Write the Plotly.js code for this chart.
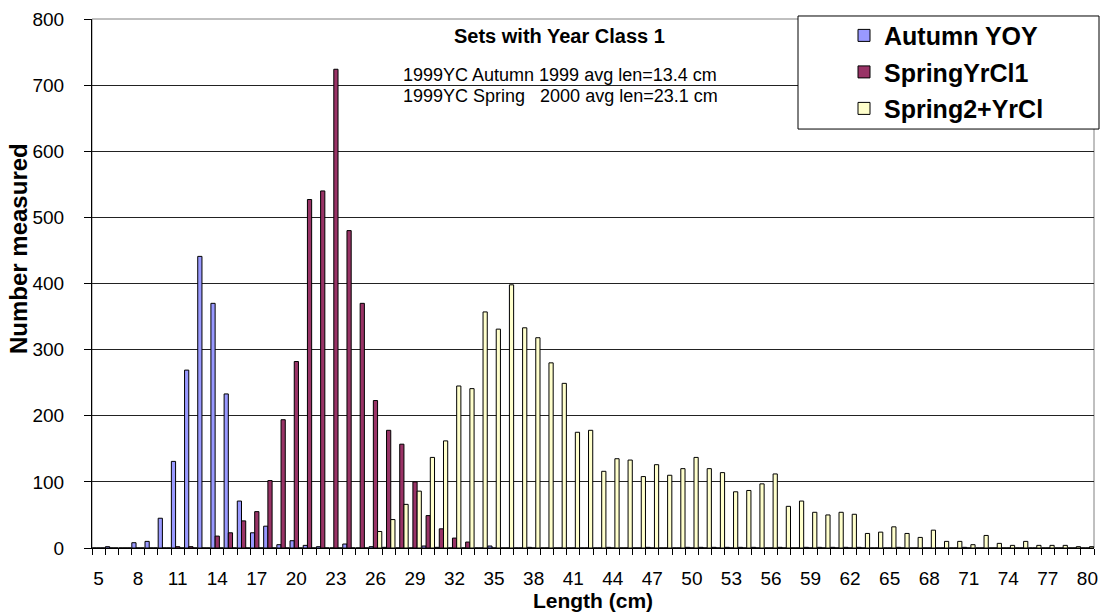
<!DOCTYPE html>
<html>
<head>
<meta charset="utf-8">
<script src="https://cdn.plot.ly/plotly-3.0.1.min.js"></script>
<style>html,body{margin:0;padding:0;background:#fff;}#chart{width:1101px;height:613px;}</style>
</head>
<body>
<div id="chart"></div>
<script>
// Length classes (cm)
const lengths = [5,6,7,8,9,10,11,12,13,14,15,16,17,18,19,20,21,22,23,24,25,26,27,28,29,30,
  31,32,33,34,35,36,37,38,39,40,41,42,43,44,45,46,47,48,49,50,51,52,53,54,55,56,57,58,59,60,
  61,62,63,64,65,66,67,68,69,70,71,72,73,74,75,76,77,78,79,80];

// Autumn YOY
const autumnYOY = [0,2,0,8,10,45,131,269,441,370,233,71,23,33,5,11,4,2,0,6,0,2,1,0,0,3,
  1,0,0,0,3,0,0,1,0,0,0,0,0,1,0,0,1,0,0,1,1,1,1,1,1,0,1,0,1,1,
  1,1,1,0,0,1,0,0,0,0,1,0,0,0,0,0,0,0,0,0];

// SpringYrCl1
const springYrCl1 = [0,0,0,0,0,0,2,2,0,18,23,41,55,102,194,282,527,540,724,480,370,223,178,157,100,49,
  29,15,9,0,0,0,0,0,0,0,0,0,0,0,0,0,0,0,0,0,0,0,0,0,0,0,0,0,0,0,
  0,0,0,0,0,0,0,0,0,0,0,0,0,0,0,0,0,0,0,0];

// Spring2+YrCl
const spring2YrCl = [0,0,0,0,0,0,0,0,0,0,0,0,0,0,0,0,0,0,0,0,0,25,43,66,86,137,
  162,245,241,357,331,398,333,318,280,249,175,178,116,135,133,108,126,110,120,137,120,114,85,87,97,112,63,71,54,50,
  54,51,22,24,32,22,16,27,10,10,5,19,7,4,10,4,4,4,2,2];

// Labelled x ticks
const xTickLabels = [5,8,11,14,17,20,23,26,29,32,35,38,41,44,47,50,53,56,59,62,65,68,71,74,77,80];

const seriesNames = ['Autumn YOY', 'SpringYrCl1', 'Spring2+YrCl'];
const seriesColors = ['#9999FF', '#993366', '#FFFFCC'];
const seriesValues = [autumnYOY, springYrCl1, spring2YrCl];

const FONT = 'Liberation Sans, Arial, sans-serif';

const traces = seriesValues.map((vals, i) => ({
  type: 'bar',
  name: seriesNames[i],
  x: lengths,
  y: vals,
  legendgroup: 'g' + i,
  marker: {color: seriesColors[i], line: {color: '#000', width: 1}},
  hoverinfo: 'x+y+name'
}));

const layout = {
  width: 1101, height: 613,
  margin: {l: 92, r: 7, t: 19, b: 65},
  paper_bgcolor: '#fff', plot_bgcolor: '#fff',
  barmode: 'group', bargap: 0.04, bargroupgap: 0,
  font: {family: FONT, color: '#000'},
  showlegend: true,
  legend: {
    x: 0.7505, xanchor: 'left', y: 1.012, yanchor: 'top',
    bgcolor: 'rgba(0,0,0,0)', borderwidth: 0,
    font: {family: FONT, size: 25, color: '#000', weight: 'bold'},
    traceorder: 'grouped', tracegroupgap: 1
  },
  xaxis: {
    range: [4.5, 80.5],
    tickmode: 'array', tickvals: xTickLabels, ticktext: xTickLabels.map(String),
    ticks: '', showgrid: false, zeroline: false,
    showline: true, linecolor: '#000', linewidth: 1,
    tickfont: {family: FONT, size: 19, color: '#000'},
    ticklabelstandoff: 13,
    minor: {tickmode: 'linear', tick0: 4.5, dtick: 1, ticks: 'outside', ticklen: 6, tickcolor: '#000', tickwidth: 1, showgrid: false},
    title: {text: '<b>Length (cm)</b>', font: {family: FONT, size: 21, color: '#000'}, standoff: 2}
  },
  yaxis: {
    range: [0, 800], tickmode: 'linear', tick0: 0, dtick: 100,
    ticks: 'outside', ticklen: 7, tickcolor: '#000',
    showgrid: true, gridcolor: '#222', gridwidth: 1, zeroline: false,
    showline: true, linecolor: '#000', linewidth: 1,
    tickfont: {family: FONT, size: 19, color: '#000'},
    ticklabelstandoff: 16
  },
  shapes: [
    {type: 'rect', xref: 'paper', yref: 'paper', x0: 0, x1: 1, y0: 0, y1: 1,
     line: {color: '#808080', width: 1}, fillcolor: 'rgba(0,0,0,0)', layer: 'below'},
    {type: 'rect', xref: 'paper', yref: 'paper', x0: 0.7046, x1: 1.005, y0: 0.792, y1: 1.0057,
     line: {color: '#000', width: 1}, fillcolor: '#fff', layer: 'above'}
  ],
  annotations: [
    {text: '<b>Sets with Year Class 1</b>', xref: 'paper', yref: 'paper', x: 0.467, y: 0.967,
     xanchor: 'center', yanchor: 'middle', showarrow: false, font: {family: FONT, size: 20, color: '#000'}},
    {text: '1999YC Autumn 1999 avg len=13.4 cm', xref: 'paper', yref: 'paper', x: 0.3084, y: 0.895,
     xanchor: 'left', yanchor: 'middle', showarrow: false, font: {family: FONT, size: 18, color: '#000'}},
    {text: '1999YC Spring\u00a0\u00a0 2000 avg len=23.1 cm', xref: 'paper', yref: 'paper', x: 0.3084, y: 0.8545,
     xanchor: 'left', yanchor: 'middle', showarrow: false, font: {family: FONT, size: 18, color: '#000'}},
    {text: '<b>Number measured</b>', xref: 'paper', yref: 'paper', x: -0.0739, y: 0.567,
     xanchor: 'center', yanchor: 'middle', textangle: -90, showarrow: false, font: {family: FONT, size: 24, color: '#000'}}
  ]
};

Plotly.newPlot('chart', traces, layout, {displayModeBar: false, staticPlot: true});
</script>
</body>
</html>
